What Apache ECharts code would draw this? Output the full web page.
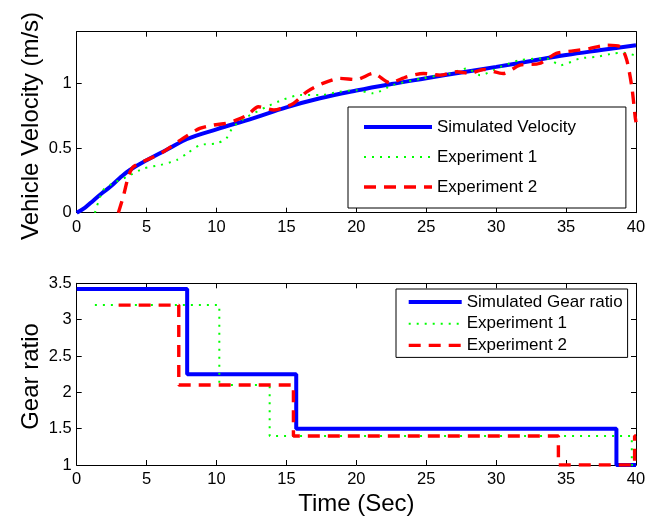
<!DOCTYPE html>
<html>
<head>
<meta charset="utf-8">
<script src="https://cdn.jsdelivr.net/npm/echarts@6/dist/echarts.min.js"></script>
<style>html,body{margin:0;padding:0;background:#fff}#c{width:659px;height:521px}</style>
</head>
<body>
<div id="c"></div>
<script>
// ---- Data ----
var xTicks = [0, 5, 10, 15, 20, 25, 30, 35, 40];

// Top: vehicle velocity (m/s) vs time (s)
var simVelocity = [[0,0],[0.6,0.04],[1.2,0.095],[1.8,0.15],[2.4,0.20],[3.1,0.27],[3.8,0.33],[5,0.405],[6.5,0.49],[7.9,0.57],[10,0.645],[12.6,0.73],[15,0.815],[17.4,0.885],[20,0.945],[22.5,0.995],[25,1.04],[27.5,1.085],[30,1.128],[32.5,1.174],[35,1.219],[37.5,1.258],[40,1.296]];
var exp1Velocity = [[1.3,0],[1.9,0.175],[2.6,0.227],[3.6,0.278],[4.8,0.343],[6.0,0.369],[7.15,0.407],[7.9,0.459],[8.8,0.523],[10.0,0.536],[10.7,0.575],[11.2,0.665],[12.2,0.742],[13.6,0.82],[14.8,0.876],[16.0,0.91],[17.4,0.91],[18.8,0.935],[20.0,0.948],[21.2,0.923],[22.6,0.987],[24.8,1.04],[26.7,1.077],[27.9,1.116],[28.85,1.064],[30.3,1.128],[31.7,1.18],[33.6,1.193],[34.6,1.141],[36.0,1.193],[37.2,1.206],[38.4,1.232],[39.1,1.237],[40,1.215]];
var exp2Velocity = [[2.98,0],[3.33,0.124],[3.69,0.278],[4.05,0.355],[5.0,0.407],[6.2,0.471],[7.6,0.575],[8.8,0.652],[9.8,0.678],[10.7,0.691],[11.4,0.716],[12.2,0.755],[13.0,0.82],[14.1,0.794],[15.5,0.845],[16.45,0.935],[17.6,1.0],[18.8,1.039],[20.0,1.03],[21.2,1.077],[22.4,1.005],[23.6,1.051],[24.8,1.077],[26.0,1.064],[27.2,1.09],[28.1,1.077],[29.1,1.108],[30.5,1.077],[31.7,1.141],[33.1,1.154],[34.3,1.232],[35.5,1.252],[36.7,1.27],[37.9,1.296],[38.9,1.283],[39.34,1.18],[39.7,0.974],[39.94,0.742],[40,0.70]];

// Bottom: gear ratio vs time (s)
var simGear = [[0,3.42],[7.9,3.42],[7.9,2.25],[15.7,2.25],[15.7,1.5],[38.6,1.5],[38.6,1.0],[40,1.0]];
var exp1Gear = [[1.3,3.2],[10.2,3.2],[10.2,2.1],[13.8,2.1],[13.8,1.4],[39.7,1.4],[39.7,1.0],[40,1.0]];
var exp2Gear = [[3.0,3.2],[7.3,3.2],[7.3,2.1],[15.5,2.1],[15.5,1.4],[34.45,1.4],[34.45,1.0],[39.9,1.0],[39.9,1.4],[40,1.4]];

var topLegendNames = ['Simulated Velocity', 'Experiment 1', 'Experiment 2'];
var bottomLegendNames = ['Simulated Gear ratio', 'Experiment 1', 'Experiment 2'];

// ---- Styles ----
var FONT = 'Liberation Sans, Arial, Helvetica, sans-serif';
var BLUE = '#0000ff', GREEN = '#00ff00', RED = '#ff0000';

function xAx(gi, pos, labels) {
  return {
    type: 'value', gridIndex: gi, position: pos, min: 0, max: 40, interval: 5,
    axisLine: {show: true, onZero: false, lineStyle: {color: '#000', width: 1}},
    axisTick: {show: true, inside: true, length: 5, lineStyle: {color: '#000'}},
    axisLabel: {show: labels, margin: 6, fontFamily: FONT, fontSize: 16.5, color: '#000'},
    splitLine: {show: false}
  };
}
function yAx(gi, pos, labels, min, max, hideMax) {
  return {
    type: 'value', gridIndex: gi, position: pos, min: min, max: max, interval: 0.5,
    axisLine: {show: true, onZero: false, lineStyle: {color: '#000', width: 1}},
    axisTick: {show: true, inside: true, length: 5, lineStyle: {color: '#000'}},
    axisLabel: {show: labels, margin: 5, showMaxLabel: !hideMax, fontFamily: FONT, fontSize: 16.5, color: '#000'},
    splitLine: {show: false}
  };
}

var blueStyle = {color: BLUE, width: 4, type: 'solid'};
var greenStyle = {color: GREEN, width: 2, type: [2, 6]};
var redStyle = {color: RED, width: 3.4, type: [12, 8]};
var legendLineStyles = [blueStyle, greenStyle, redStyle];

function ser(name, data, xi, yi, ls, smooth) {
  return {
    name: name, type: 'line', xAxisIndex: xi, yAxisIndex: yi, data: data,
    showSymbol: false, symbol: 'none', smooth: smooth, animation: false,
    lineStyle: ls, itemStyle: {color: ls.color}, emphasis: {disabled: true}
  };
}
function legendData(names) {
  return names.map(function (n, i) {
    return {name: n, lineStyle: legendLineStyles[i]};
  });
}

var legendText = {fontFamily: FONT, fontSize: 17, color: '#000', lineHeight: 20};

var option = {
  backgroundColor: '#fff',
  animation: false,
  grid: [
    {left: 76.7, top: 31.7, width: 559.3, height: 181, containLabel: false},
    {left: 76.7, top: 283.3, width: 559.3, height: 181.7, containLabel: false}
  ],
  xAxis: [
    xAx(0, 'bottom', true),
    Object.assign(xAx(1, 'bottom', true), {name: 'Time (Sec)', nameLocation: 'middle', nameGap: 27,
      nameTextStyle: {fontFamily: FONT, fontSize: 24, color: '#000'}}),
    xAx(0, 'top', false),
    xAx(1, 'top', false)
  ],
  yAxis: [
    yAx(0, 'left', true, 0, 1.4, true),
    yAx(1, 'left', true, 1, 3.5, false),
    yAx(0, 'right', false, 0, 1.4, true),
    yAx(1, 'right', false, 1, 3.5, false)
  ],
  legend: [
    {
      data: legendData(topLegendNames), orient: 'vertical', left: 348, top: 107,
      padding: [10, 50, 11, 14], itemGap: 10, itemWidth: 68, itemHeight: 14,
      backgroundColor: '#fff', borderColor: '#000', borderWidth: 1, borderRadius: 0,
      itemStyle: {opacity: 0},
      textStyle: legendText, selectedMode: false, z: 10
    },
    {
      data: legendData(bottomLegendNames), orient: 'vertical', left: 396, top: 289,
      padding: [3, 5, 2, 10.7], itemGap: 1.7, itemWidth: 53, itemHeight: 14,
      backgroundColor: '#fff', borderColor: '#000', borderWidth: 1, borderRadius: 0,
      itemStyle: {opacity: 0},
      textStyle: legendText, selectedMode: false, z: 10
    }
  ],
  graphic: [
    {type: 'text', x: 31, y: 126, rotation: Math.PI / 2,
      style: {text: 'Vehicle Velocity (m/s)', fontFamily: FONT, fontSize: 24, fill: '#000', align: 'center', verticalAlign: 'middle'}},
    {type: 'text', x: 31, y: 376.5, rotation: Math.PI / 2,
      style: {text: 'Gear ratio', fontFamily: FONT, fontSize: 24, fill: '#000', align: 'center', verticalAlign: 'middle'}}
  ],
  series: [
    ser('Simulated Velocity', simVelocity, 0, 0, blueStyle, 0.4),
    ser('Experiment 1', exp1Velocity, 0, 0, greenStyle, 0.25),
    ser('Experiment 2', exp2Velocity, 0, 0, redStyle, 0.25),
    ser('Simulated Gear ratio', simGear, 1, 1, blueStyle, false),
    ser('Experiment 1', exp1Gear, 1, 1, greenStyle, false),
    ser('Experiment 2', exp2Gear, 1, 1, redStyle, false)
  ]
};

var chart = echarts.init(document.getElementById('c'), null, {renderer: 'canvas'});
chart.setOption(option);
</script>
</body>
</html>
